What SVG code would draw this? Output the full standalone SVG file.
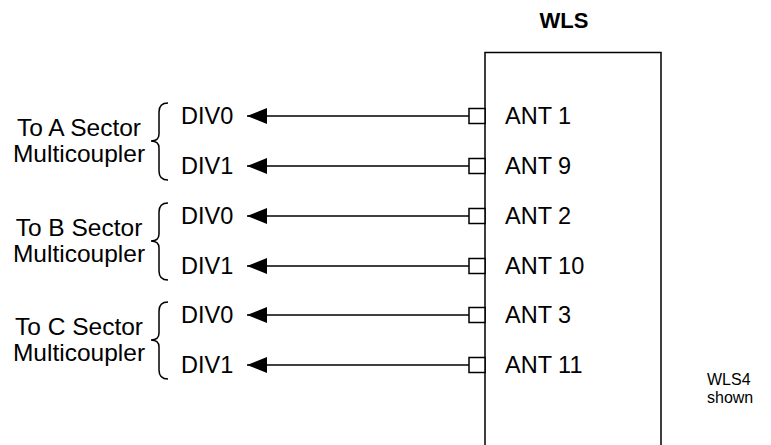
<svg xmlns="http://www.w3.org/2000/svg" width="771" height="445" viewBox="0 0 771 445">
<defs>
<style>
text{font-family:"Liberation Sans",Arial,sans-serif;fill:#000}
.t{font-size:23.5px}
.l{font-size:24.5px}
.s{font-size:16px}
.b{font-size:22px;font-weight:bold}
.ln{stroke:#000;stroke-width:1.5;fill:none}
.sq{stroke:#000;stroke-width:1.5;fill:#fff}
</style>
<marker id="ah" viewBox="0 0 20 16" refX="20" refY="8" markerWidth="20" markerHeight="16" markerUnits="userSpaceOnUse" orient="auto">
<path d="M0,0 L20,8 L0,16 Z" fill="#000"/>
</marker>
</defs>
<rect width="771" height="445" fill="#fff"/>
<g id="wls">
<text class="b" x="564" y="28" text-anchor="middle">WLS</text>
<path class="ln" d="M485,460 V52.5 H661 V460"/>
<text class="t" x="505" y="124">ANT 1</text>
<text class="t" x="505" y="174">ANT 9</text>
<text class="t" x="505" y="224">ANT 2</text>
<text class="t" x="505" y="274">ANT 10</text>
<text class="t" x="505" y="323">ANT 3</text>
<text class="t" x="505" y="373">ANT 11</text>
</g>
<g id="connectors">
<path class="ln" d="M469,116 H247" marker-end="url(#ah)"/>
<path class="ln" d="M469,166 H247" marker-end="url(#ah)"/>
<path class="ln" d="M469,216 H247" marker-end="url(#ah)"/>
<path class="ln" d="M469,266 H247" marker-end="url(#ah)"/>
<path class="ln" d="M469,315 H247" marker-end="url(#ah)"/>
<path class="ln" d="M469,365 H247" marker-end="url(#ah)"/>
<rect class="sq" x="469" y="108.5" width="16" height="15"/>
<rect class="sq" x="469" y="158.5" width="16" height="15"/>
<rect class="sq" x="469" y="208.5" width="16" height="15"/>
<rect class="sq" x="469" y="258.5" width="16" height="15"/>
<rect class="sq" x="469" y="307.5" width="16" height="15"/>
<rect class="sq" x="469" y="357.5" width="16" height="15"/>
</g>
<g id="sectorA">
<text class="l" x="79" y="136" text-anchor="middle">To A Sector</text>
<text class="l" x="79" y="162" text-anchor="middle">Multicoupler</text>
<path class="ln" d="M168,103 Q159,103 159,112 V134 Q159,141 151,141 Q159,141 159,148 V171 Q159,180 168,180"/>
<text class="t" x="181" y="124">DIV0</text>
<text class="t" x="181" y="174">DIV1</text>
</g>
<g id="sectorB">
<text class="l" x="79" y="236" text-anchor="middle">To B Sector</text>
<text class="l" x="79" y="262" text-anchor="middle">Multicoupler</text>
<path class="ln" d="M168,203 Q159,203 159,212 V234 Q159,241 151,241 Q159,241 159,248 V271 Q159,280 168,280"/>
<text class="t" x="181" y="224">DIV0</text>
<text class="t" x="181" y="274">DIV1</text>
</g>
<g id="sectorC">
<text class="l" x="79" y="335" text-anchor="middle">To C Sector</text>
<text class="l" x="79" y="361" text-anchor="middle">Multicoupler</text>
<path class="ln" d="M168,302 Q159,302 159,311 V333 Q159,340 151,340 Q159,340 159,347 V370 Q159,379 168,379"/>
<text class="t" x="181" y="323">DIV0</text>
<text class="t" x="181" y="373">DIV1</text>
</g>
<g id="note">
<text class="s" x="707" y="385">WLS4</text>
<text class="s" x="707" y="403">shown</text>
</g>
</svg>
